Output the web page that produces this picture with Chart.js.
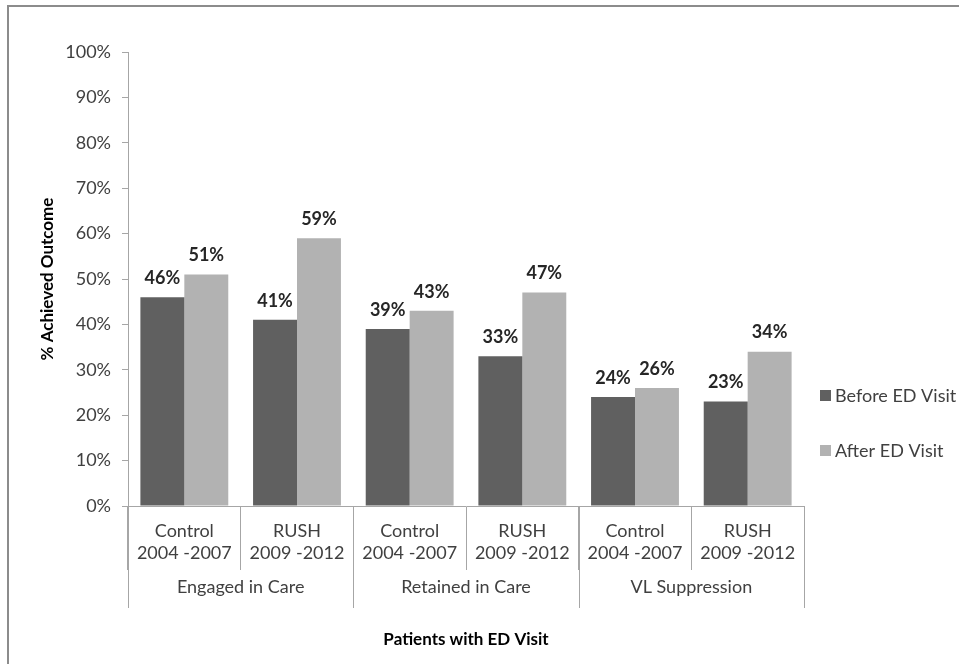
<!DOCTYPE html>
<html>
<head>
<meta charset="utf-8">
<script src="https://cdn.jsdelivr.net/npm/chart.js@4"></script>
<style>
  html, body { margin: 0; padding: 0; background: #fff; overflow: hidden; }
  #wrap { position: relative; width: 959px; height: 664px; overflow: hidden; }
  #frame { position: absolute; left: 7px; top: 5px; width: 980px; height: 700px;
           border-left: 2px solid #8c8c8c; border-top: 2px solid #8c8c8c; pointer-events: none; }
  canvas { position: absolute; left: 0; top: 0; }
</style>
</head>
<body>
<div id="wrap">
  <canvas id="chart" width="959" height="664"></canvas>
  <div id="frame"></div>
</div>
<script>
// data
const subgroups = [
  ['Control', '2004 -2007'], ['RUSH', '2009 -2012'],
  ['Control', '2004 -2007'], ['RUSH', '2009 -2012'],
  ['Control', '2004 -2007'], ['RUSH', '2009 -2012']
];
const groups = ['Engaged in Care', 'Retained in Care', 'VL Suppression'];
const series_names = ['Before ED Visit', 'After ED Visit'];
const before = [0.46, 0.41, 0.39, 0.33, 0.24, 0.23];
const after = [0.51, 0.59, 0.43, 0.47, 0.26, 0.34];

const FONT = 'Lato, "Open Sans", sans-serif';
const TEXT = '#404040';
const AXIS = '#a6a6a6';

const extras = {
  id: 'extras',
  afterDatasetsDraw(chart) {
    const ctx = chart.ctx;
    const x = chart.scales.x;
    ctx.save();
    // value labels above bars
    ctx.font = 'bold 18px ' + FONT;
    ctx.fillStyle = '#262626';
    ctx.textAlign = 'center';
    ctx.textBaseline = 'middle';
    chart.data.datasets.forEach((ds, i) => {
      chart.getDatasetMeta(i).data.forEach((bar, j) => {
        ctx.fillText(Math.round(ds.data[j] * 100) + '%', bar.x, bar.y - 19);
      });
    });
    // group dividers + group names
    const per = subgroups.length / groups.length;
    ctx.strokeStyle = AXIS;
    ctx.lineWidth = 1;
    for (let g = 0; g <= groups.length; g++) {
      const px = Math.round(x.getPixelForValue(g * per - 0.5)) + 0.5;
      ctx.beginPath();
      ctx.moveTo(px, x.top);
      ctx.lineTo(px, x.top + 102);
      ctx.stroke();
    }
    ctx.font = '18px ' + FONT;
    ctx.fillStyle = TEXT;
    groups.forEach((name, g) => {
      const a = x.getPixelForValue(g * per - 0.5);
      const b = x.getPixelForValue((g + 1) * per - 0.5);
      ctx.fillText(name, (a + b) / 2, x.top + 81);
    });
    // legend
    ctx.textAlign = 'left';
    chart.data.datasets.forEach((ds, i) => {
      const cy = 395 + i * 55;
      ctx.fillStyle = ds.backgroundColor;
      ctx.fillRect(820, cy - 5, 11, 11);
      ctx.fillStyle = TEXT;
      ctx.fillText(ds.label, 835, cy + 1);
    });
    ctx.restore();
  }
};

const ctx = document.getElementById('chart');
new Chart(ctx, {
  type: 'bar',
  data: {
    labels: subgroups,
    datasets: [
      { label: series_names[0], data: before, backgroundColor: '#606060' },
      { label: series_names[1], data: after, backgroundColor: '#b2b2b2' }
    ]
  },
  options: {
    responsive: false,
    animation: false,
    devicePixelRatio: 1,
    categoryPercentage: 0.78,
    barPercentage: 1.0,
    layout: { padding: { left: 10, top: 52, right: 155, bottom: 0 } },
    plugins: {
      legend: { display: false },
      tooltip: { enabled: false }
    },
    scales: {
      x: {
        afterFit(scale) { scale.height = 158; },
        grid: { offset: true, drawOnChartArea: false, drawTicks: true, tickLength: 64, color: AXIS },
        border: { color: AXIS },
        ticks: { color: TEXT, font: { family: FONT, size: 18, lineHeight: '22px' }, padding: -50, maxRotation: 0 },
        title: { display: true, text: 'Patients with ED Visit', color: '#000',
                 font: { family: FONT, size: 17, weight: 'bold' }, padding: 14 }
      },
      y: {
        min: 0,
        max: 1,
        afterFit(scale) { scale.width = 118; },
        grid: { drawOnChartArea: false, drawTicks: true, tickLength: 6, color: AXIS },
        border: { color: AXIS },
        ticks: { stepSize: 0.1, color: TEXT, font: { family: FONT, size: 18 }, padding: 11,
                 callback: v => Math.round(v * 100) + '%' },
        title: { display: true, text: '% Achieved Outcome', color: '#000',
                 font: { family: FONT, size: 17, weight: 'bold' }, padding: 27 }
      }
    }
  },
  plugins: [extras]
});
</script>
</body>
</html>
